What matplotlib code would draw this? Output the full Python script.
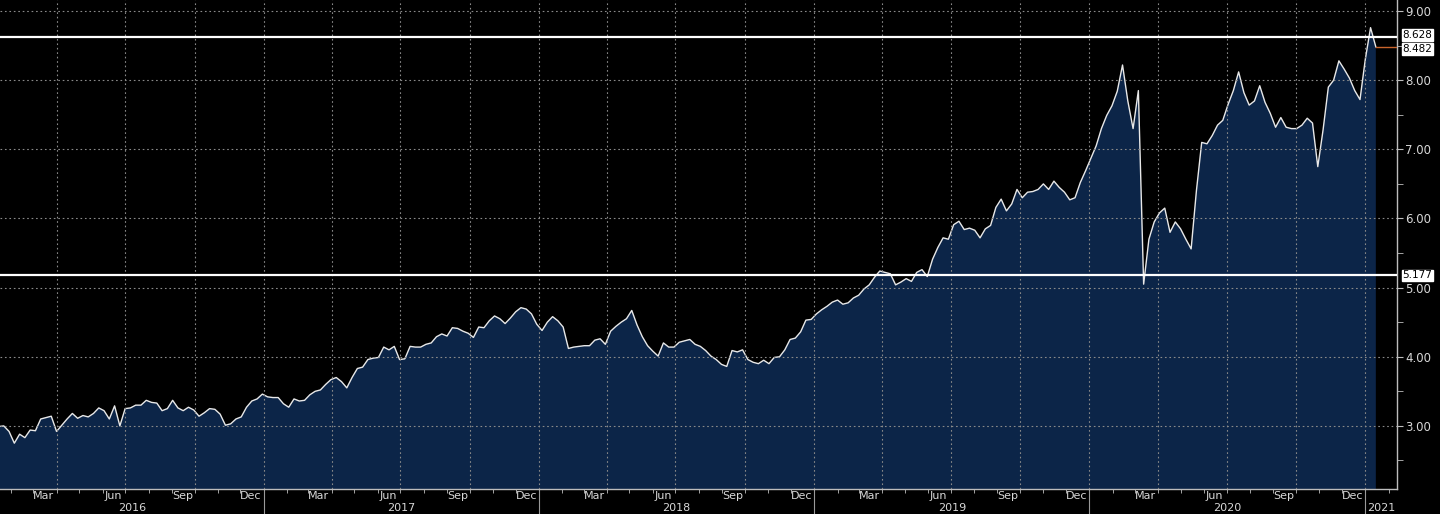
import matplotlib.pyplot as plt
import matplotlib.transforms as mtransforms
import numpy as np
import pandas as pd

# weekly closes (Fridays from 2016-01-15 to 2021-01-15)
start_date = "2016-01-15"
prices = [
    2.99, 3.00, 2.92, 2.75, 2.88, 2.83, 2.94, 2.93, 3.10, 3.12,
    3.14, 2.92, 3.01, 3.10, 3.18, 3.11, 3.15, 3.13, 3.18, 3.26,
    3.22, 3.10, 3.29, 3.00, 3.25, 3.26, 3.30, 3.30, 3.37, 3.34,
    3.33, 3.22, 3.25, 3.37, 3.26, 3.22, 3.27, 3.23, 3.14, 3.19,
    3.25, 3.24, 3.17, 3.01, 3.03, 3.10, 3.13, 3.27, 3.36, 3.39,
    3.46, 3.42, 3.41, 3.41, 3.32, 3.27, 3.39, 3.36, 3.37, 3.45,
    3.50, 3.52, 3.60, 3.67, 3.70, 3.64, 3.55, 3.70, 3.83, 3.85,
    3.96, 3.98, 3.99, 4.14, 4.10, 4.15, 3.96, 3.97, 4.15, 4.14,
    4.14, 4.18, 4.20, 4.29, 4.33, 4.30, 4.42, 4.41, 4.37, 4.34,
    4.28, 4.43, 4.42, 4.52, 4.59, 4.55, 4.48, 4.56, 4.65, 4.71,
    4.69, 4.62, 4.47, 4.38, 4.50, 4.58, 4.52, 4.43, 4.12, 4.14,
    4.15, 4.16, 4.16, 4.24, 4.26, 4.18, 4.37, 4.44, 4.50, 4.55,
    4.67, 4.46, 4.29, 4.16, 4.08, 4.01, 4.20, 4.14, 4.14, 4.21,
    4.23, 4.25, 4.18, 4.15, 4.09, 4.01, 3.96, 3.89, 3.86, 4.09,
    4.07, 4.10, 3.96, 3.92, 3.90, 3.95, 3.90, 3.99, 4.00, 4.10,
    4.25, 4.27, 4.36, 4.53, 4.54, 4.62, 4.68, 4.73, 4.79, 4.82,
    4.76, 4.78, 4.85, 4.89, 4.98, 5.04, 5.15, 5.24, 5.22, 5.20,
    5.04, 5.08, 5.13, 5.09, 5.22, 5.26, 5.16, 5.41, 5.58, 5.72,
    5.70, 5.91, 5.96, 5.84, 5.86, 5.83, 5.72, 5.85, 5.90, 6.16,
    6.28, 6.11, 6.21, 6.42, 6.30, 6.38, 6.39, 6.42, 6.50, 6.42,
    6.54, 6.45, 6.38, 6.27, 6.30, 6.52, 6.69, 6.87, 7.05, 7.30,
    7.49, 7.63, 7.84, 8.22, 7.70, 7.30, 7.85, 5.05, 5.70, 5.95,
    6.08, 6.15, 5.80, 5.95, 5.85, 5.70, 5.56, 6.40, 7.10, 7.08,
    7.20, 7.35, 7.42, 7.65, 7.85, 8.12, 7.82, 7.64, 7.70, 7.92,
    7.68, 7.52, 7.32, 7.46, 7.32, 7.30, 7.30, 7.35, 7.45, 7.38,
    6.75, 7.28, 7.90, 8.00, 8.28, 8.16, 8.03, 7.85, 7.72, 8.30,
    8.76, 8.482,
]
high_line = 8.628
low_line = 5.177
last_price = 8.482

dates = pd.date_range(start_date, periods=len(prices), freq="7D")

BG = "black"
FILL = "#0c2548"
GRID = "#8a8a8a"
TXT = "#d8d8d8"

fig = plt.figure(figsize=(14.4, 5.14), dpi=100, facecolor=BG)
ax = fig.add_axes([0.0, 0.0486, 0.9701, 0.9514], facecolor=BG)

ax.fill_between(dates, prices, 0, color=FILL, lw=0)
ax.plot(dates, prices, color="#e8e8e8", lw=1.0)

x_left = pd.Timestamp("2016-01-17")
x_right = pd.Timestamp("2021-02-12")
ax.set_xlim(x_left, x_right)
ax.set_ylim(2.087, 9.16)

# level lines
ax.axhline(high_line, color="white", lw=1.6, zorder=4)
ax.axhline(low_line, color="white", lw=1.6, zorder=4)
ax.plot([dates[-1], x_right], [last_price, last_price], color="#c8642c", lw=1.0, zorder=4)

# grid
for d in pd.date_range("2016-04-01", "2021-01-01", freq="QS"):
    ax.axvline(d, color=GRID, lw=0.8, ls=(0, (1.5, 2.5)), zorder=3)
for v in range(3, 10):
    ax.axhline(v, color=GRID, lw=0.8, ls=(0, (1.5, 2.5)), zorder=3)

# spines
for s in ["top", "left"]:
    ax.spines[s].set_visible(False)
for s in ["bottom", "right"]:
    ax.spines[s].set_color("#bdbdbd")
    ax.spines[s].set_linewidth(1.0)

# y axis on the right
ax.yaxis.tick_right()
ax.set_yticks(np.arange(3, 10))
ax.set_yticks(np.arange(2.5, 9.5, 1.0), minor=True)
ax.yaxis.set_major_formatter(plt.FormatStrFormatter("%.2f"))
ax.tick_params(axis="y", which="both", colors="#bdbdbd", labelcolor=TXT,
               labelsize=8.5, direction="out", length=4, pad=2)

# x axis: month labels at mid-month, small ticks at month starts
month_mid = [d + pd.Timedelta(days=14) for d in pd.date_range("2016-03-01", "2020-12-01", freq="3MS")]
ax.set_xticks(month_mid)
ax.set_xticklabels([d.strftime("%b") for d in month_mid])
ax.set_xticks(pd.date_range("2016-02-01", "2021-02-01", freq="MS"), minor=True)
ax.tick_params(axis="x", which="major", length=0, pad=1.5, labelsize=8, labelcolor=TXT)
ax.tick_params(axis="x", which="minor", length=3, colors="#bdbdbd", direction="out")

# year labels and separators under the axis
trans = mtransforms.blended_transform_factory(ax.transData, fig.transFigure)
year_starts = [pd.Timestamp(f"{y}-01-01") for y in range(2017, 2022)]
for d in year_starts:
    ax.plot([d, d], [0.0486, 0.0], color="#9a9a9a", lw=0.8, transform=trans, clip_on=False)
bounds = [x_left] + year_starts + [x_right]
for i, year in enumerate(range(2016, 2022)):
    mid = bounds[i] + (bounds[i + 1] - bounds[i]) / 2
    ax.text(mid, 0.001, str(year), transform=trans, ha="center", va="bottom",
            color=TXT, fontsize=8)

# value tags on the right axis
for val, dy in [(high_line, 1.5), (last_price, -1.5), (low_line, 0)]:
    ax.annotate(f"{val:.3f}", xy=(1.0, val), xycoords=("axes fraction", "data"),
                xytext=(4, dy), textcoords="offset points", ha="left", va="center",
                fontsize=7.5, color="black", annotation_clip=False, zorder=6,
                bbox=dict(boxstyle="square,pad=0.08", fc="white", ec="white"))

fig.savefig("out.png", dpi=100, facecolor=BG)
